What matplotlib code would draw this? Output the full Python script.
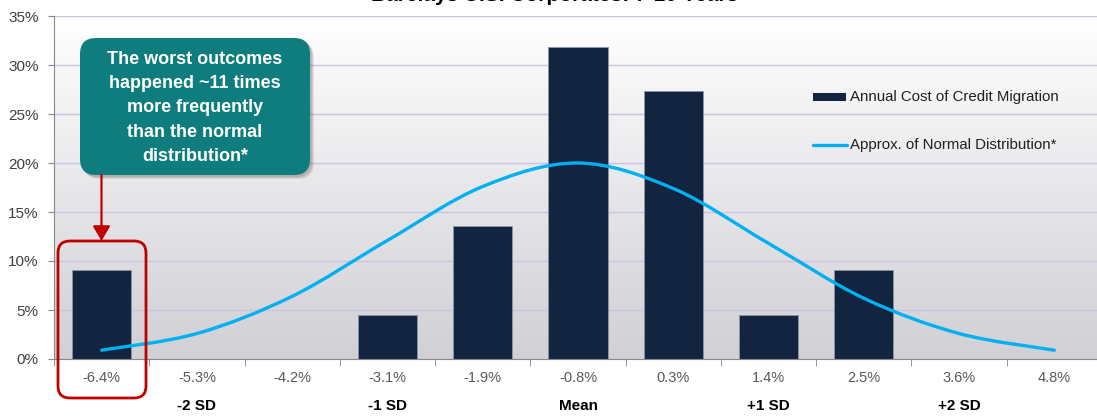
import numpy as np
import matplotlib.pyplot as plt
from matplotlib.colors import LinearSegmentedColormap
from matplotlib.patches import FancyBboxPatch, PathPatch, Rectangle
from matplotlib.path import Path
from matplotlib.lines import Line2D

plt.rcParams['font.family'] = ['Liberation Sans', 'DejaVu Sans']

# Data
categorias = ['-6.4%', '-5.3%', '-4.2%', '-3.1%', '-1.9%', '-0.8%', '0.3%', '1.4%', '2.5%', '3.6%', '4.8%']
costo_migracion = [9.1, 0, 0, 4.5, 13.6, 31.8, 27.3, 4.5, 9.1, 0, 0]
normal_aprox = [0.9, 2.6, 6.4, 12.1, 17.6, 20.0, 17.4, 11.8, 6.2, 2.6, 0.9]
sd_posiciones = [1, 3, 5, 7, 9]
sd_etiquetas = ['-2 SD', '-1 SD', 'Mean', '+1 SD', '+2 SD']
titulo = 'Barclays U.S. Corporates: 7-10 Years'
texto_nota = 'The worst outcomes\nhappened ~11 times\nmore frequently\nthan the normal\ndistribution*'

azul_barra = '#12243f'
azul_linea = '#00b0f0'
rojo = '#c00000'
verde = '#0f7d7d'

fig = plt.figure(figsize=(10.97, 4.18), dpi=100)
ax = fig.add_axes([54 / 1097, 59 / 418, 1048 / 1097, 343 / 418])

# Fondo degradado
fondo = LinearSegmentedColormap.from_list('fondo', ['#ffffff', '#d0d0d5'])
ax.imshow(np.linspace(0, 1, 256).reshape(-1, 1), extent=[-0.5, 10.5, 0, 35],
          aspect='auto', cmap=fondo, zorder=0)

x = np.arange(len(categorias))
valores = np.array(costo_migracion)
hay = valores > 0
ax.bar(x[hay], valores[hay], width=0.62, color=azul_barra,
       edgecolor='#8a96a6', linewidth=0.6, zorder=2)

# Curva suavizada (Bezier tipo Catmull-Rom) sobre los puntos de la normal
xs = x.astype(float)
ys = np.array(normal_aprox)
verts = [(xs[0], ys[0])]
codes = [Path.MOVETO]
for i in range(len(xs) - 1):
    x0, y0 = (xs[i - 1], ys[i - 1]) if i > 0 else (xs[i], ys[i])
    x3, y3 = (xs[i + 2], ys[i + 2]) if i + 2 < len(xs) else (xs[i + 1], ys[i + 1])
    c1 = (xs[i] + (xs[i + 1] - x0) / 6, ys[i] + (ys[i + 1] - y0) / 6)
    c2 = (xs[i + 1] - (x3 - xs[i]) / 6, ys[i + 1] - (y3 - ys[i]) / 6)
    verts += [c1, c2, (xs[i + 1], ys[i + 1])]
    codes += [Path.CURVE4] * 3
ax.add_patch(PathPatch(Path(verts, codes), fill=False, edgecolor=azul_linea,
                       lw=2.4, capstyle='round', zorder=3))

ax.set_xlim(-0.5, 10.5)
ax.set_ylim(0, 35)
ax.set_yticks(np.arange(0, 36, 5))
ax.set_yticklabels([f'{v}%' for v in range(0, 36, 5)])
ax.yaxis.grid(True, color='#cdc2de', lw=1)
ax.set_axisbelow(True)

ax.set_xticks(x)
ax.set_xticklabels(categorias)
ax.set_xticks(np.arange(-0.5, 10.6, 1), minor=True)
ax.tick_params(axis='x', which='major', length=0, pad=9, labelsize=10.5, labelcolor='#595959')
ax.tick_params(axis='x', which='minor', length=5, color='#888888', direction='out')
ax.tick_params(axis='y', length=4, color='#888888', pad=7, labelsize=11, labelcolor='#404040')

for lado in ['top', 'right']:
    ax.spines[lado].set_visible(False)
for lado in ['left', 'bottom']:
    ax.spines[lado].set_color('#888888')

for p, et in zip(sd_posiciones, sd_etiquetas):
    ax.text(p, -0.137, et, transform=ax.get_xaxis_transform(), ha='center', va='center',
            fontsize=11, fontweight='bold', color='black')

# Capa superior en pixeles para anotaciones
ov = fig.add_axes([0, 0, 1, 1], zorder=5)
ov.set_xlim(0, 1097)
ov.set_ylim(418, 0)
ov.set_axis_off()

ov.text(555, 1, titulo, ha='center', va='baseline', fontsize=15, fontweight='bold', color='black')

for k, a in [(4, 0.12), (3, 0.15), (2, 0.18)]:
    ov.add_patch(FancyBboxPatch((80 + k, 38 + k), 230, 137,
                                boxstyle='round,pad=0,rounding_size=16',
                                facecolor='#555555', edgecolor='none', alpha=a))
ov.add_patch(FancyBboxPatch((80, 38), 230, 137, boxstyle='round,pad=0,rounding_size=16',
                            facecolor=verde, edgecolor='none'))
ov.text(195, 108, texto_nota, ha='center', va='center', color='white',
        fontsize=13, fontweight='bold', linespacing=1.55)

ov.annotate('', xy=(101.5, 241), xytext=(101.5, 175),
            arrowprops=dict(arrowstyle='-|>,head_length=0.6,head_width=0.35',
                            mutation_scale=15, color=rojo, lw=1.6,
                            shrinkA=0, shrinkB=0))
ov.add_patch(FancyBboxPatch((58, 241), 88, 157, boxstyle='round,pad=0,rounding_size=12',
                            facecolor='none', edgecolor=rojo, lw=2))

# Leyenda
ov.add_patch(Rectangle((813, 93), 33, 8, facecolor=azul_barra, edgecolor='none'))
ov.text(850, 97, 'Annual Cost of Credit Migration', va='center', fontsize=10.8, color='#202020')
ov.add_line(Line2D([813, 847], [145, 145], color=azul_linea, lw=2.4, solid_capstyle='round'))
ov.text(850, 145, 'Approx. of Normal Distribution*', va='center', fontsize=10.8, color='#202020')

fig.savefig('out.png', dpi=100)
